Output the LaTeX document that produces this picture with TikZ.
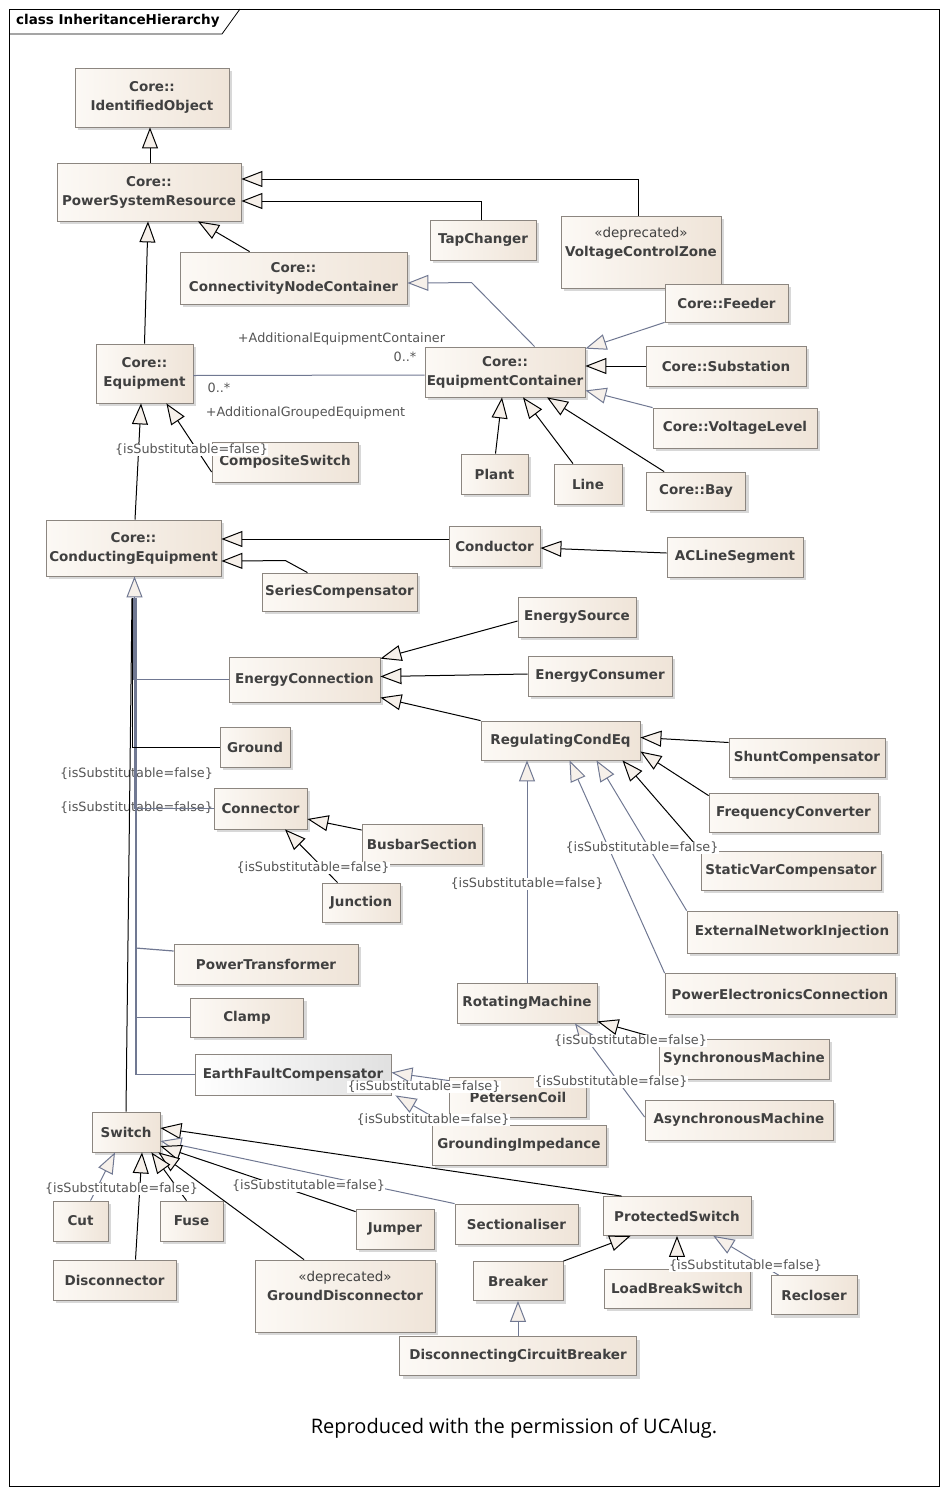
\documentclass[tikz,border=0pt]{standalone}
\usepackage{fontspec}
\setmainfont{DejaVu Sans}
\newfontfamily\capfont{Open Sans}
\usetikzlibrary{arrows.meta,shadows}

\definecolor{boxleft}{RGB}{252,249,245}
\definecolor{boxright}{RGB}{239,228,216}
\definecolor{boxline}{RGB}{140,134,128}
\definecolor{boxtext}{RGB}{64,64,64}
\definecolor{labtext}{RGB}{85,85,85}
\definecolor{slate}{RGB}{112,120,146}
\definecolor{tipfill}{RGB}{246,240,234}
\definecolor{shadowgray}{RGB}{216,216,216}

\begin{document}
\begin{tikzpicture}[x=1pt, y=-1pt,
    clsbase/.style={draw=boxline, line width=0.8pt, font=\bfseries\fontsize{13.5}{19}\selectfont,
      text=boxtext, align=center, inner sep=0pt},
    cls/.style={clsbase, left color=boxleft, right color=boxright,
      drop shadow={shadow xshift=3pt, shadow yshift=-3pt, fill=shadowgray, opacity=1}},
    efcbox/.style={clsbase, left color=white, right color=black!12},
    stereo/.style={font=\bfseries\fontsize{13.5}{19}\selectfont, text=boxtext, align=center, inner sep=0pt, anchor=north},
    lab/.style={font=\fontsize{12.8}{15}\selectfont, text=labtext, fill=white, inner sep=0.5pt},
    gen/.style={draw=black, line width=1pt, -{Triangle[length=21pt, width=16pt, fill=tipfill]}},
    gengray/.style={draw=slate, line width=1pt, -{Triangle[length=21pt, width=16pt, fill=tipfill]}},
    trunk/.style={draw=slate, line width=1.2pt},
    assoc/.style={draw=slate, line width=1pt}]

  \useasboundingbox (0,0) rectangle (947,1494);

  % frame
  \draw[line width=0.8pt] (9,9) rectangle (939,1486);
  \draw[line width=0.8pt] (9,34) -- (222,34) -- (240,9);
  \node[anchor=west, font=\bfseries\fontsize{13.5}{16}\selectfont, inner sep=0pt] (title) at (16,21) {class InheritanceHierarchy};

  % classes
  \node[cls, minimum width=154, minimum height=59] (io) at (152,97.5) {Core::\\IdentifiedObject};
  \node[cls, minimum width=184, minimum height=58] (psr) at (149,192) {Core::\\PowerSystemResource};
  \node[cls, minimum width=106, minimum height=40] (tap) at (483,240) {TapChanger};
  \node[cls, minimum width=160, minimum height=72] (vcz) at (641,252) {};
  \node[stereo] at ([yshift=-11]vcz.north) {{\mdseries«deprecated»}\\VoltageControlZone};
  \node[cls, minimum width=227, minimum height=52] (cnc) at (293.5,278) {Core::\\ConnectivityNodeContainer};
  \node[cls, minimum width=123, minimum height=38] (feeder) at (726.5,303) {Core::Feeder};
  \node[cls, minimum width=160, minimum height=50] (ec) at (505,372) {Core::\\EquipmentContainer};
  \node[cls, minimum width=160, minimum height=40] (subst) at (726,366) {Core::Substation};
  \node[cls, minimum width=164, minimum height=40] (vl) at (735,428) {Core::VoltageLevel};
  \node[cls, minimum width=67, minimum height=40] (plant) at (494.5,474) {Plant};
  \node[cls, minimum width=68, minimum height=40] (line) at (588,484) {Line};
  \node[cls, minimum width=99, minimum height=38] (bay) at (696,491) {Core::Bay};
  \node[cls, minimum width=97, minimum height=59] (eq) at (144.5,373.5) {Core::\\Equipment};
  \node[cls, minimum width=146, minimum height=40] (cs) at (285,462) {CompositeSwitch};
  \node[cls, minimum width=175, minimum height=56] (ce) at (133.5,548) {Core::\\ConductingEquipment};
  \node[cls, minimum width=91, minimum height=40] (cond) at (494.5,546) {Conductor};
  \node[cls, minimum width=136, minimum height=40] (acl) at (735,557) {ACLineSegment};
  \node[cls, minimum width=155, minimum height=38] (sc) at (339.5,592) {SeriesCompensator};
  \node[cls, minimum width=118, minimum height=40] (es) at (577,617) {EnergySource};
  \node[cls, minimum width=144, minimum height=40] (econs) at (600,676) {EnergyConsumer};
  \node[cls, minimum width=151, minimum height=45] (econn) at (304.5,679.5) {EnergyConnection};
  \node[cls, minimum width=159, minimum height=39] (rce) at (560.5,740.5) {RegulatingCondEq};
  \node[cls, minimum width=70, minimum height=40] (ground) at (255,747) {Ground};
  \node[cls, minimum width=156, minimum height=39] (shunt) at (807,757.5) {ShuntCompensator};
  \node[cls, minimum width=93, minimum height=41] (connector) at (260.5,808.5) {Connector};
  \node[cls, minimum width=120, minimum height=40] (busbar) at (422,844) {BusbarSection};
  \node[cls, minimum width=169, minimum height=39] (fc) at (793.5,812.5) {FrequencyConverter};
  \node[cls, minimum width=180, minimum height=39] (svc) at (791,870.5) {StaticVarCompensator};
  \node[cls, minimum width=78, minimum height=39] (junction) at (361,902.5) {Junction};
  \node[cls, minimum width=210, minimum height=42] (eni) at (792,932) {ExternalNetworkInjection};
  \node[cls, minimum width=184, minimum height=40] (pt) at (266,964) {PowerTransformer};
  \node[cls, minimum width=230, minimum height=41] (pec) at (780,994) {PowerElectronicsConnection};
  \node[cls, minimum width=140, minimum height=40] (rm) at (527,1003) {RotatingMachine};
  \node[cls, minimum width=113, minimum height=39] (clamp) at (247,1017.5) {Clamp};
  \node[cls, minimum width=170, minimum height=40] (sm) at (744,1059) {SynchronousMachine};
  \node[efcbox, minimum width=196, minimum height=41] (efc) at (293,1074.5) {EarthFaultCompensator};
  \node[cls, minimum width=137, minimum height=40] (pc) at (518,1097) {PetersenCoil};
  \node[cls, minimum width=188, minimum height=40] (am) at (739,1120) {AsynchronousMachine};
  \node[cls, minimum width=174, minimum height=40] (gi) at (519,1145) {GroundingImpedance};
  \node[cls, minimum width=68, minimum height=40] (sw) at (126,1132) {Switch};
  \node[cls, minimum width=55, minimum height=40] (cut) at (80.5,1221) {Cut};
  \node[cls, minimum width=63, minimum height=40] (fuse) at (191.5,1221) {Fuse};
  \node[cls, minimum width=78, minimum height=40] (jumper) at (395,1229) {Jumper};
  \node[cls, minimum width=123, minimum height=40] (sect) at (516.5,1224) {Sectionaliser};
  \node[cls, minimum width=148, minimum height=39] (ps) at (677,1216) {ProtectedSwitch};
  \node[cls, minimum width=123, minimum height=40] (disc) at (114.5,1280) {Disconnector};
  \node[cls, minimum width=180, minimum height=72] (gd) at (345,1296) {};
  \node[stereo] at ([yshift=-11]gd.north) {{\mdseries«deprecated»}\\GroundDisconnector};
  \node[cls, minimum width=90, minimum height=39] (brk) at (518,1281) {Breaker};
  \node[cls, minimum width=146, minimum height=39] (lbs) at (677,1288.5) {LoadBreakSwitch};
  \node[cls, minimum width=86, minimum height=39] (rec) at (814,1295) {Recloser};
  \node[cls, minimum width=237, minimum height=39] (dcb) at (518,1356) {DisconnectingCircuitBreaker};

  % labels under the trunk
  \node[lab] at (136.5,774) {\{isSubstitutable=false\}};
  \node[lab] at (136.5,808) {\{isSubstitutable=false\}};

  % upper part
  \draw[gen] ([xshift=1]psr.north) -- ([xshift=-2]io.south);
  \draw[gen] (eq.north) -- ([xshift=-1]psr.south);
  \draw[gen] ([xshift=70]cnc.north west) -- ([xshift=49]psr.south);
  \draw[gen] ([xshift=-2]tap.north) |- ([yshift=-9]psr.east);
  \draw[gen] ([xshift=-3]vcz.north) |- ([yshift=13]psr.east);
  \draw[gengray] ([xshift=110]ec.north west) -- ++(-63,-64) -- ([yshift=-5]cnc.east);
  \draw[gengray] (feeder.south west) -- ([yshift=-2]ec.north east);
  \draw[gen] (subst.west) -- (subst.west -| ec.east);
  \draw[gengray] (vl.north west) -- ([yshift=7]ec.south east);
  \draw[gen] ([xshift=1]plant.north) -- ([xshift=-3]ec.south);
  \draw[gen] ([xshift=-15]line.north) -- ([xshift=18]ec.south);
  \draw[gen] ([xshift=18]bay.north west) -- ([xshift=42]ec.south);
  \draw[assoc] ([yshift=-2]eq.east) -- ([yshift=-3]ec.west);
  \node[lab] (aec) at (341.5,339) {+AdditionalEquipmentContainer};
  \node[lab] (age) at (305.5,413) {+AdditionalGroupedEquipment};
  \node[lab, anchor=east] (mult1) at (417,357) {0..*};
  \node[lab, anchor=west] (mult2) at (207,388) {0..*};
  \draw[gen] ([xshift=1.5]ce.north) -- ([xshift=-3.5]eq.south);
  \draw[gen] ([yshift=-10]cs.west) -- ([xshift=-27]eq.south east);

  % conducting equipment
  \draw[gen] ([yshift=7]cond.west) -- ([yshift=9]ce.east);
  \draw[gen] ([xshift=-32]sc.north) -- ++(-22,-12) -- ([yshift=-13]ce.east);
  \draw[gen] ([yshift=4]acl.west) -- ([yshift=-2]cond.east);
  \draw[gen] ([yshift=-4]es.west) -- ([yshift=-2]econn.north east);
  \draw[gen] ([yshift=2]econs.west) -- ([yshift=3]econn.east);
  \draw[gen] (rce.north west) -- ([yshift=-18]econn.east);
  \draw[gen] ([yshift=15]shunt.west) -- ([yshift=3]rce.east);
  \draw[gen] ([yshift=-3]fc.north west) -- ([yshift=-11]rce.east);
  \draw[gen] (svc.north west) -- ([xshift=62]rce.south);
  \draw[gengray] (rm.north) -- (rm.north |- rce.south);
  \draw[gengray] (pec.north west) -- ([xshift=9]rce.south);
  \draw[gengray] (eni.north west) -- ([xshift=36]rce.south);
  \draw[gen] ([xshift=16]junction.north west) -- ([xshift=24.5]connector.south);
  \draw[gen] ([yshift=14]busbar.west) -- ([yshift=-10.5]connector.east);
  \draw[gen] (sm.north west) -- ([yshift=2]rm.south east);
  \draw[gengray] ([yshift=3]am.west) -- ([xshift=48]rm.south);
  \draw[gengray] ([yshift=-4]pc.north west) -- ([yshift=2]efc.east);
  \draw[gengray] ([xshift=15]gi.north west) -- ([xshift=4]efc.south east);

  % trunk
  \draw[trunk] (econn.west) -| ([xshift=0.5,yshift=-22]ce.south);
  \draw[trunk] (connector.west) -| ([xshift=1.5,yshift=-22]ce.south);
  \draw[trunk] ([yshift=13]pt.west) -- ++(-38,-3) -- ([xshift=2.5,yshift=-22]ce.south);
  \draw[trunk] (clamp.west) -| ([xshift=2,yshift=-22]ce.south);
  \draw[trunk] (efc.west) -| ([xshift=2.5,yshift=-22]ce.south);
  \draw[gengray] ([xshift=1,yshift=-22]ce.south) -- ([xshift=1]ce.south);
  \draw[line width=1pt] (ground.west) -| ([xshift=-1.5,yshift=-22]ce.south);
  \draw[line width=1pt] (sw.north) -- ([xshift=-1.5,yshift=-22]ce.south);

  % switches
  \draw[gen] ([xshift=19]ps.north west) -- ([yshift=4]sw.east);
  \draw[gengray] (sect.north west) -- ([yshift=-9]sw.east);
  \draw[gen] ([yshift=-3]jumper.north west) -- ([yshift=-14]sw.east);
  \draw[gen] ([xshift=-41]gd.north) -- ([xshift=-2]sw.south east);
  \draw[gen] ([xshift=-5]fuse.north) -- ([xshift=-9]sw.south east);
  \draw[gen] ([xshift=21]disc.north) -- ([xshift=16]sw.south);
  \draw[gengray] ([xshift=10]cut.north) -- ([xshift=-11]sw.south);
  \draw[gen] (brk.north east) -- ([xshift=28]ps.south west);
  \draw[gen] (lbs.north) -- (ps.south);
  \draw[gengray] ([xshift=8]rec.north west) -- ([xshift=-38]ps.south east);
  \draw[gengray] (dcb.north) -- (brk.south);

  % constraint labels
  \foreach \p in {(191.5,450), (313,868), (642,848), (527,884), (630.5,1041), (611,1082),
      (424,1087), (433,1120), (121.5,1189), (308.5,1186), (745.5,1266)}
    \node[lab] at \p {\{isSubstitutable=false\}};

  \node[font=\capfont\fontsize{20}{24}\selectfont, inner sep=0pt] (caption) at (514,1428) {Reproduced with the permission of UCAIug.};
\end{tikzpicture}
\end{document}
